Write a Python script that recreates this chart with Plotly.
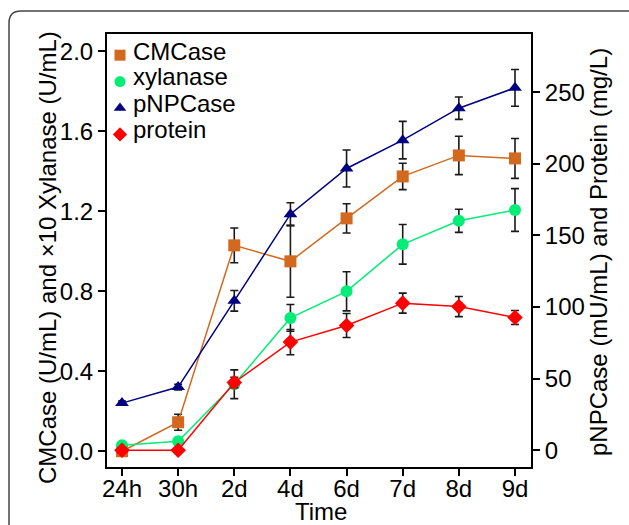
import plotly.graph_objects as go

time_labels = ["24h", "30h", "2d", "4d", "6d", "7d", "8d", "9d"]

cmcase = [0.0, 0.145, 1.03, 0.95, 1.165, 1.375, 1.48, 1.465]
cmcase_err = [0.01, 0.04, 0.087, 0.18, 0.073, 0.066, 0.096, 0.10]

xylanase = [0.03, 0.05, 0.335, 0.667, 0.80, 1.035, 1.153, 1.207]
xylanase_err = [0.01, 0.006, 0.072, 0.067, 0.098, 0.099, 0.058, 0.107]

pnpcase = [32.9, 44.1, 104.3, 164.8, 196.7, 216.5, 238.8, 253.0]
pnpcase_err = [1.5, 2.0, 7.2, 8.0, 12.9, 13.1, 7.8, 12.8]

protein = [0.0, 0.0, 47.3, 75.5, 87.1, 102.7, 100.3, 92.7]
protein_err = [0.5, 0.5, 3.7, 8.8, 8.4, 7.0, 7.0, 4.9]

series_names = ["CMCase", "xylanase", "pNPCase", "protein"]

C_CMC = "#D2691E"
C_XYL = "#00EE76"
C_PNP = "#000080"
C_PRO = "#FF0000"
FONT = "Liberation Sans, Arial, Helvetica, sans-serif"
FS = 24

def eb(arr):
    return dict(type="data", array=arr, visible=True, color="#1a1a1a",
                thickness=1.6, width=4)

fig = go.Figure()
series = [
    (series_names[0], cmcase, cmcase_err, C_CMC, "square", 12, "y"),
    (series_names[1], xylanase, xylanase_err, C_XYL, "circle", 12, "y"),
    (series_names[2], pnpcase, pnpcase_err, C_PNP, "triangle-up", 12, "y2"),
    (series_names[3], protein, protein_err, C_PRO, "diamond", 12, "y2"),
]
for name, vals, err, col, sym, sz, ax in series:
    fig.add_trace(go.Scatter(
        x=time_labels, y=vals, yaxis=ax, mode="lines+markers", name=name,
        line=dict(color=col, width=1.5),
        marker=dict(color=col, symbol=sym, size=sz),
        error_y=eb(err), showlegend=False, cliponaxis=False))
# legend symbols (labels are written next to them as text)
for name, vals, err, col, sym, sz, ax in series:
    fig.add_trace(go.Scatter(
        x=[None], y=[None], yaxis=ax, mode="markers", name=" ",
        legendgroup=name,
        marker=dict(color=col, symbol=sym, size=sz - 1), showlegend=True))

L, R, T, B = 107, 98, 34, 58
W, H = 629, 525
pw, ph = W - L - R, H - T - B

def px(x):
    return (x - L) / pw

def py(y):
    return (H - B - y) / ph

r = 12
x0, y0 = px(9), py(11)
x1, y1 = px(700), py(600)
rx, ry = r / pw, r / ph
path = (f"M {x0},{y1} L {x0},{y0 - ry} Q {x0},{y0} {x0 + rx},{y0} L {x1},{y0}")

axis_common = dict(showgrid=False, zeroline=False, showline=True,
                   linecolor="black", linewidth=2, ticks="outside",
                   ticklen=7, tickwidth=1.5, tickcolor="black",
                   tickfont=dict(size=FS))

legend_rows = [51.5, 76.5, 103.5, 129]
annotations = [
    dict(text=n, xref="paper", yref="paper", x=px(131), y=py(yy),
         showarrow=False, xanchor="left", yanchor="middle",
         font=dict(size=FS))
    for n, yy in zip(series_names, legend_rows)
]
annotations += [
    dict(text="CMCase (U/mL) and \u00d710 Xylanase (U/mL)", textangle=-90,
         xref="paper", yref="paper", x=px(47), y=py(258), showarrow=False,
         xanchor="center", yanchor="middle", font=dict(size=FS)),
    dict(text="pNPCase (mU/mL) and Protein (mg/L)", textangle=-90,
         xref="paper", yref="paper", x=px(598), y=py(252), showarrow=False,
         xanchor="center", yanchor="middle", font=dict(size=FS)),
    dict(text="Time", xref="paper", yref="paper", x=px(321), y=py(527),
         showarrow=False, xanchor="center", yanchor="bottom",
         font=dict(size=FS)),
]

fig.update_layout(
    width=W, height=H,
    margin=dict(l=L, r=R, t=T, b=B, pad=0),
    paper_bgcolor="white", plot_bgcolor="white",
    font=dict(family=FONT, size=FS, color="black"),
    showlegend=True,
    legend=dict(x=px(100), y=py(37), xanchor="left", yanchor="top",
                bgcolor="rgba(0,0,0,0)", font=dict(size=18),
                tracegroupgap=0, itemsizing="trace", itemwidth=30),
    xaxis=dict(type="category", range=[-0.267, 7.285], mirror=True,
               ticklabelstandoff=-8, **axis_common),
    yaxis=dict(range=[-0.079, 2.0875], tickvals=[0, 0.4, 0.8, 1.2, 1.6, 2.0],
               tickformat=".1f", **axis_common),
    yaxis2=dict(range=[-11.7, 290.6], tickvals=[0, 50, 100, 150, 200, 250],
                overlaying="y", side="right", **axis_common),
    shapes=[dict(type="path", xref="paper", yref="paper", path=path,
                 line=dict(color="#444444", width=1.5), layer="below")],
    annotations=annotations,
)

fig.write_html("out.html")
